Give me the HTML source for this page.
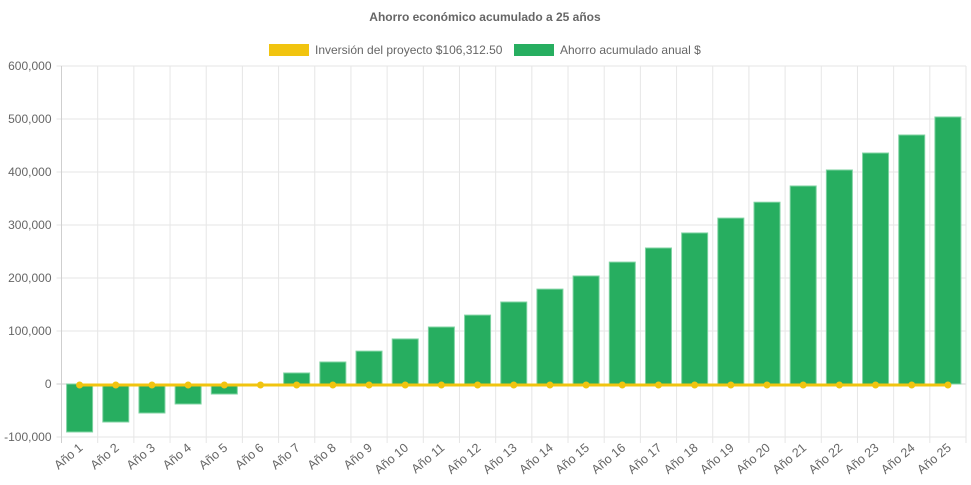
<!DOCTYPE html>
<html><head><meta charset="utf-8"><style>
body{margin:0;background:#fff;}
svg{display:block;font-family:"Liberation Sans",Arial,sans-serif;}
</style></head><body>
<svg id="chart" width="971" height="485">
<text x="485" y="21" text-anchor="middle" font-size="12" font-weight="bold" fill="#666">Ahorro económico acumulado a 25 años</text>
<g>
<rect x="269" y="44" width="40" height="12" fill="#f1c40f"/>
<text x="315" y="54" font-size="12" fill="#666">Inversión del proyecto $106,312.50</text>
</g>
<g>
<rect x="514" y="44" width="40" height="12" fill="#27ae60"/>
<text x="560" y="54" font-size="12" fill="#666">Ahorro acumulado anual $</text>
</g>
<g id="grid"></g><g id="bars"></g><g id="line"></g><g id="axes"></g>
</svg>
<script>
const categories=["Año 1","Año 2","Año 3","Año 4","Año 5","Año 6","Año 7","Año 8","Año 9","Año 10","Año 11","Año 12","Año 13","Año 14","Año 15","Año 16","Año 17","Año 18","Año 19","Año 20","Año 21","Año 22","Año 23","Año 24","Año 25"];
const savings=[-90500,-71700,-54700,-37700,-18900,0,20800,41500,62000,85000,107500,130000,154700,179000,203800,230000,256600,285000,313000,343000,373600,403800,435800,469800,503800];
const investment=[0,0,0,0,0,0,0,0,0,0,0,0,0,0,0,0,0,0,0,0,0,0,0,0,0];
const yTicks=[-100000,0,100000,200000,300000,400000,500000,600000];
const ns="http://www.w3.org/2000/svg";
const L=61.5,R=966,T=66,B=437,ymin=-100000,ymax=600000;
const cw=(R-L)/categories.length;
const y=v=>B-(v-ymin)/(ymax-ymin)*(B-T);
const x=i=>L+cw*(i+0.5);
function mk(tag,attrs,parent){const e=document.createElementNS(ns,tag);for(const k in attrs)e.setAttribute(k,attrs[k]);document.getElementById(parent).appendChild(e);return e;}
yTicks.forEach(t=>{
 const g=mk("line",{x1:L-5,x2:R,y1:y(t),y2:y(t),stroke:t===0?"#cfcfcf":"#e6e6e6"},"grid");
 
 
 const tx=mk("text",{x:L-10,y:y(t)+4,"text-anchor":"end","font-size":12,fill:"#666"},"axes");
 tx.textContent=t.toLocaleString("en-US");
 
 
});
for(let i=0;i<=categories.length;i++){
 const gx=L+cw*i;
 const g=mk("line",{x1:gx,x2:gx,y1:T,y2:B+6,stroke:i===0?"#cfcfcf":"#e6e6e6"},"grid");
 
 
}
categories.forEach((c,i)=>{
 const v=savings[i];const bw=26;
 if(v!==0){
 const r=mk("rect",{x:x(i)-bw/2,y:Math.min(y(v),y(0)),width:bw,height:Math.abs(y(v)-y(0)),fill:"#27ae60",stroke:"#7fd3a2","stroke-width":1},"bars");
 
 
 }
 const tx=mk("text",{x:0,y:0,"text-anchor":"end","font-size":12.5,fill:"#666",transform:`translate(${x(i)+4},${B+12}) rotate(-40)`},"axes");
 tx.textContent=c;
 
 
});
const pts=investment.map((v,i)=>x(i)+","+(y(v)+1)).join(" ");
const pl=mk("polyline",{points:pts,fill:"none",stroke:"#f1c40f","stroke-width":3},"line");


investment.forEach((v,i)=>{
 const c=mk("circle",{cx:x(i),cy:y(v)+1,r:3.5,fill:"#f1c40f"},"line");
 
 
});
</script>
</body></html>
